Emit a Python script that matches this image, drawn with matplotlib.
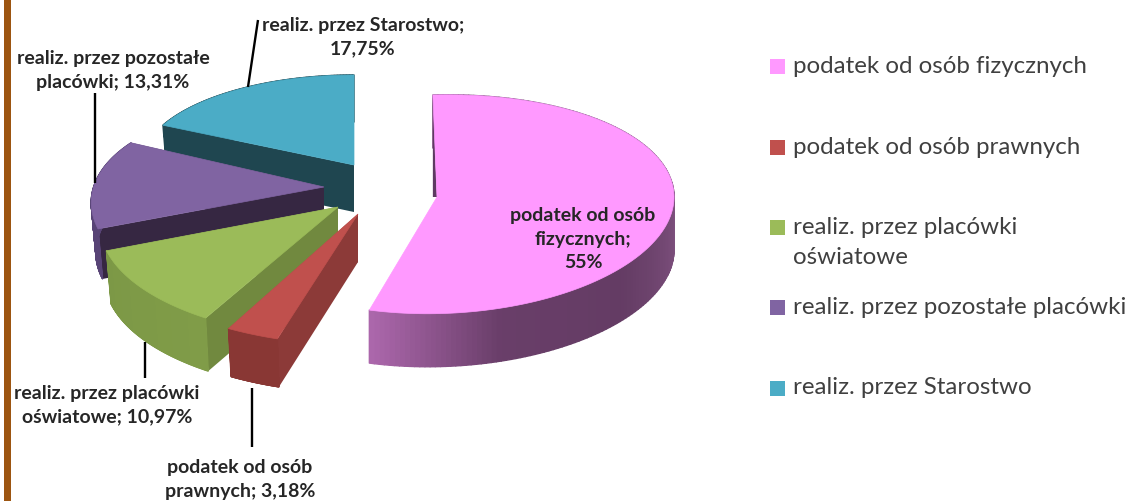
import numpy as np
import matplotlib
matplotlib.use("Agg")
import matplotlib.pyplot as plt
from matplotlib.collections import PolyCollection
from matplotlib.patches import Polygon, Rectangle

# data
categories = ["podatek od osób fizycznych", "podatek od osób prawnych",
              "realiz. przez placówki oświatowe", "realiz. przez pozostałe placówki",
              "realiz. przez Starostwo"]
values = [55.0, 3.18, 10.97, 13.31, 17.75]
legend_labels = ["podatek od osób fizycznych", "podatek od osób prawnych",
                 "realiz. przez placówki\noświatowe", "realiz. przez pozostałe placówki",
                 "realiz. przez Starostwo"]
data_labels = ["podatek od osób\nfizycznych;\n55%", "podatek od osób\nprawnych; 3,18%",
               "realiz. przez placówki\noświatowe; 10,97%", "realiz. przez pozostałe\nplacówki; 13,31%",
               "realiz. przez Starostwo;\n17,75%"]

# styles / layout (pixel space)
top_col = ["#FF99FF", "#C0504D", "#9BBB59", "#8064A2", "#4BACC6"]
cut_col = ["#5E3A62", "#8C3A38", "#71893F", "#362742", "#1F4650"]
apex = [(437, 197), (358, 214), (338, 207), (324, 187), (354, 165)]
# radii at the start and at the end of each slice (perspective)
radii = [(237, 102, 237, 118), (267, 131, 267, 131), (273, 127, 249, 119),
         (243, 114, 215, 100), (213, 90, 213, 90)]
rotation = [-1, 0, 0, 0, 0]
inward = [0, .02, .02, .02, .02]
depth = [53, 48, 53, 50, 47]
wall_stops = [
    [(90, (128, 82, 128)), (130, (100, 60, 100)), (165, (105, 62, 105)), (198, (175, 105, 175))],
    [(198, (137, 55, 52)), (210, (137, 55, 52))],
    [(209, (128, 156, 72)), (250, (124, 152, 70))],
    [(249, (88, 68, 118)), (297, (88, 68, 118))],
    [(297, (31, 70, 80)), (360, (31, 70, 80))],
]
label_pos = [(583, 239), (240, 479), (107, 405), (113, 70), (363, 37)]
leaders = [None, ((252, 388), (252, 447)), ((145, 342), (145, 378)),
           ((95, 93), (95, 183)), ((248, 87), (258, 20))]
legend_y = [66, 147, 227, 307, 388]

fig = plt.figure(figsize=(11.33, 5.01), dpi=100, facecolor="white")
ax = fig.add_axes([0, 0, 1, 1])
ax.set_xlim(0, 1133)
ax.set_ylim(501, 0)
ax.axis("off")

ax.add_patch(Rectangle((4, 0), 6.5, 501, color="#9C5511", lw=0))

fracs = np.array(values) / sum(values) * 360.0
ends = np.cumsum(fracs)
starts = ends - fracs


def arc(i, ts):
    a0, a1 = starts[i], ends[i]
    f = (ts - a0) / (a1 - a0)
    r0x, r0y, r1x, r1y = radii[i]
    t = np.radians(ts + rotation[i])
    return np.column_stack([apex[i][0] + (r0x + (r1x - r0x) * f) * np.sin(t),
                            apex[i][1] - (r0y + (r1y - r0y) * f) * np.cos(t)])


def draw_slice(i, z):
    ts = np.linspace(starts[i], ends[i], 160)
    pts = arc(i, ts)
    A = np.array(apex[i], float)
    low = pts + np.array([0, depth[i]]) - np.column_stack([inward[i] * (pts[:, 0] - A[0]), 0 * pts[:, 0]])
    A2 = A + np.array([0, depth[i]])
    # cut walls
    if i == 0:
        P = pts[0]
        ax.add_patch(Polygon([P, A, (P[0], A[1])], closed=True, color=cut_col[i], lw=0, zorder=z + .2))
    else:
        for k in (0, -1):
            ax.add_patch(Polygon([pts[k], A, A2, low[k]], closed=True, color=cut_col[i], lw=0, zorder=z))
    # outer wall as shaded strips
    stops = wall_stops[i]
    sa = [s[0] for s in stops]
    cols = np.array([np.interp(ts[:-1], sa, [s[1][k] for s in stops]) for k in range(3)]).T / 255
    quads = [[pts[k], pts[k + 1], low[k + 1], low[k]] for k in range(len(ts) - 1)]
    ax.add_collection(PolyCollection(quads, facecolors=cols, edgecolors=cols, linewidths=1.0, zorder=z + .1))
    # top
    ax.add_patch(Polygon(np.vstack([A, pts]), closed=True, facecolor=top_col[i],
                         edgecolor=top_col[i], lw=0.5, zorder=z + .3))


for z, i in enumerate([4, 3, 2, 1, 0]):
    draw_slice(i, 2 + z)

for seg in leaders:
    if seg:
        ax.plot(*zip(*seg), color="black", lw=1.7, zorder=10, solid_capstyle="butt")

for lab, (x, y) in zip(data_labels, label_pos):
    ax.text(x, y, lab, ha="center", va="center", family="Lato", fontweight="bold",
            fontsize=14, color="#262626", linespacing=1.5, zorder=11)

for lab, y, c in zip(legend_labels, legend_y, top_col):
    ax.add_patch(Rectangle((770, y - 7), 15, 14.5, color=c, lw=0))
    ax.text(793, y, lab.split("\n")[0], ha="left", va="center", family="Lato", fontsize=17.4, color="#404040")
    if "\n" in lab:
        ax.text(793, y + 31, lab.split("\n")[1], ha="left", va="center", family="Lato", fontsize=17.4, color="#404040")

fig.savefig("out.png", dpi=100)
